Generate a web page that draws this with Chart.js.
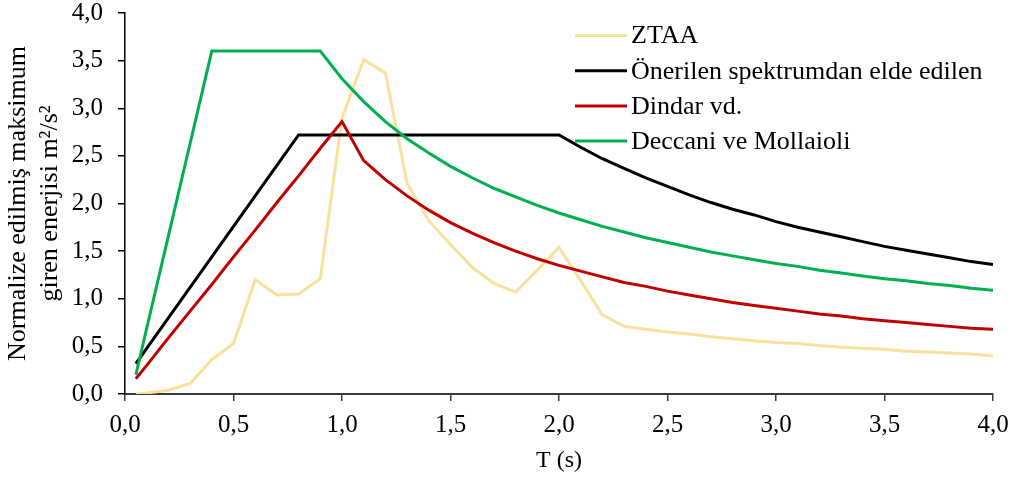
<!DOCTYPE html>
<html>
<head>
<meta charset="utf-8">
<script src="https://cdn.jsdelivr.net/npm/chart.js@4.4.1/dist/chart.umd.min.js"></script>
<style>
  html, body { margin: 0; padding: 0; background: #ffffff; }
  #wrap { width: 1014px; height: 479px; }
</style>
</head>
<body>
<div id="wrap"><canvas id="c" width="1014" height="479"></canvas></div>
<script>
// Period values T (s)
const periods = [0.05, 0.1, 0.2, 0.3, 0.4, 0.5, 0.6, 0.7, 0.8, 0.9, 1.0,
  1.1, 1.2, 1.3, 1.4, 1.5, 1.6, 1.7, 1.8, 1.9, 2.0,
  2.1, 2.2, 2.3, 2.4, 2.5, 2.6, 2.7, 2.8, 2.9, 3.0,
  3.1, 3.2, 3.3, 3.4, 3.5, 3.6, 3.7, 3.8, 3.9, 4.0];

const seriesLabels = ["ZTAA", "Önerilen spektrumdan elde edilen", "Dindar vd.", "Deccani ve Mollaioli"];

const ztaa = [0.00, 0.01, 0.04, 0.11, 0.36, 0.53, 1.20, 1.04, 1.05, 1.21, 2.90,
  3.51, 3.37, 2.21, 1.82, 1.57, 1.33, 1.16, 1.07, 1.30, 1.54,
  1.19, 0.83, 0.71, 0.68, 0.65, 0.63, 0.60, 0.58, 0.56, 0.54,
  0.53, 0.51, 0.49, 0.48, 0.47, 0.45, 0.44, 0.43, 0.42, 0.40];

const onerilen = [0.32, 0.48, 0.80, 1.12, 1.44, 1.76, 2.08, 2.40, 2.72, 2.72, 2.72,
  2.72, 2.72, 2.72, 2.72, 2.72, 2.72, 2.72, 2.72, 2.72, 2.72,
  2.59, 2.47, 2.37, 2.27, 2.18, 2.09, 2.01, 1.94, 1.88, 1.81,
  1.75, 1.70, 1.65, 1.60, 1.55, 1.51, 1.47, 1.43, 1.39, 1.36];

const dindar = [0.16, 0.30, 0.59, 0.87, 1.15, 1.44, 1.72, 2.01, 2.29, 2.58, 2.86,
  2.45, 2.25, 2.08, 1.93, 1.80, 1.69, 1.59, 1.50, 1.42, 1.35,
  1.29, 1.23, 1.17, 1.13, 1.08, 1.04, 1.00, 0.96, 0.93, 0.90,
  0.87, 0.84, 0.82, 0.79, 0.77, 0.75, 0.73, 0.71, 0.69, 0.68];

const deccani = [0.20, 0.69, 1.66, 2.63, 3.60, 3.60, 3.60, 3.60, 3.60, 3.60, 3.31,
  3.07, 2.86, 2.68, 2.53, 2.39, 2.27, 2.16, 2.07, 1.98, 1.90,
  1.83, 1.76, 1.70, 1.64, 1.59, 1.54, 1.49, 1.45, 1.41, 1.37,
  1.34, 1.30, 1.27, 1.24, 1.21, 1.19, 1.16, 1.14, 1.11, 1.09];

const xAxisTitle = "T (s)";
const yAxisTitle = ["Normalize edilmiş maksimum", "giren enerjisi m²/s²"];

const colors = ["#F9E09C", "#000000", "#C00000", "#00B050"];
const FONT = "'Liberation Serif', 'Times New Roman', serif";

function pts(vals) { return periods.map((t, i) => ({ x: t, y: vals[i] })); }

const allSeries = [ztaa, onerilen, dindar, deccani];
const datasets = allSeries.map((vals, i) => ({
  label: seriesLabels[i],
  data: pts(vals),
  borderColor: colors[i],
  backgroundColor: colors[i],
  borderWidth: 3,
  pointRadius: 0,
  tension: 0,
  fill: false,
  order: 4 - i
}));

const legendPlugin = {
  id: 'insideLegend',
  afterDraw(chart) {
    const ctx = chart.ctx;
    const ds = chart.data.datasets;
    ctx.save();
    ctx.font = "26px " + FONT;
    ctx.textBaseline = 'middle';
    ctx.textAlign = 'left';
    for (let i = 0; i < ds.length; i++) {
      const y = 35.5 + i * 35.2;
      ctx.strokeStyle = ds[i].borderColor;
      ctx.lineWidth = 3;
      ctx.beginPath();
      ctx.moveTo(575, y);
      ctx.lineTo(627, y);
      ctx.stroke();
      ctx.fillStyle = '#000000';
      ctx.fillText(ds[i].label, 631, y + 1);
    }
    ctx.restore();
  }
};

const fmt = v => Number(v).toFixed(1).replace('.', ',');

new Chart(document.getElementById('c'), {
  type: 'line',
  data: { datasets },
  plugins: [legendPlugin],
  options: {
    responsive: false,
    devicePixelRatio: 1,
    animation: false,
    layout: { padding: { left: 0, right: 21, top: 13, bottom: 0 } },
    plugins: { legend: { display: false }, tooltip: { enabled: false } },
    scales: {
      x: {
        type: 'linear',
        min: 0, max: 4,
        border: { display: true, color: '#3a3a3a', width: 2 },
        grid: { display: true, drawOnChartArea: false, drawTicks: true, tickLength: 7, color: '#3a3a3a', lineWidth: 1.5 },
        ticks: {
          stepSize: 0.5, color: '#000', padding: 9,
          font: { family: FONT, size: 25, lineHeight: 1.2 },
          maxRotation: 0, autoSkip: false,
          callback: v => fmt(v)
        },
        title: {
          display: true, text: xAxisTitle, color: '#000',
          font: { family: FONT, size: 24, lineHeight: 1.2 },
          padding: { top: 0, bottom: 4 }
        },
        afterFit(scale) {
          scale.height = 85;
          scale.paddingLeft = 0; scale.paddingRight = 0;
        }
      },
      y: {
        type: 'linear',
        min: 0, max: 4,
        border: { display: true, color: '#000', width: 1.5 },
        grid: { display: true, drawOnChartArea: false, drawTicks: true, tickLength: 7, color: '#000', lineWidth: 1.5 },
        ticks: {
          stepSize: 0.5, color: '#000', padding: 15,
          font: { family: FONT, size: 25, lineHeight: 1.0 },
          callback: v => fmt(v)
        },
        title: {
          display: true, text: yAxisTitle, color: '#000',
          font: { family: FONT, size: 26, lineHeight: 1.23 },
          padding: { top: 2, bottom: 0 }
        },
        afterFit(scale) {
          scale.width = 125;
          scale.paddingTop = 0; scale.paddingBottom = 0;
        }
      }
    }
  }
});
</script>
</body>
</html>
